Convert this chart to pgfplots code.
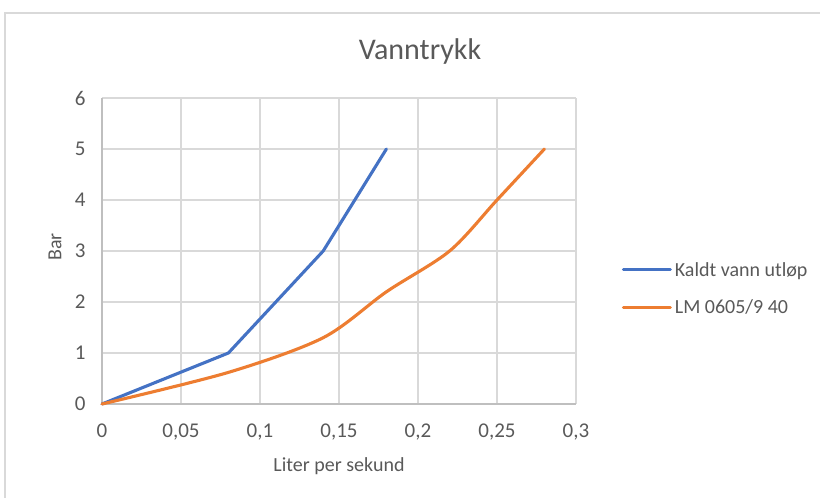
\documentclass[border=0pt]{standalone}
\usepackage{pgfplots}
\pgfplotsset{compat=1.18}
\usepackage{fontspec}
\setmainfont{Carlito}
\definecolor{xblue}{HTML}{4472C4}
\definecolor{xorange}{HTML}{ED7D31}
\definecolor{xgrid}{HTML}{D9D9D9}
\definecolor{xaxis}{HTML}{BFBFBF}
\definecolor{xtext}{HTML}{595959}
\begin{document}
\begin{tikzpicture}
\clip (0,0) rectangle (820bp,498bp);
\path[use as bounding box] (0,0) rectangle (820bp,498bp);
\draw[xgrid, line width=1.3bp] (5bp,-20bp) -- (5bp,485bp) -- (840bp,485bp);
\begin{axis}[
  at={(102bp,94bp)}, anchor=south west,
  scale only axis, width=474bp, height=306bp,
  xmin=0, xmax=0.3, ymin=0, ymax=6,
  xtick={0,0.05,0.1,0.15,0.2,0.25,0.3},
  xticklabels={0,{0,05},{0,1},{0,15},{0,2},{0,25},{0,3}},
  ytick={0,1,2,3,4,5,6},
  yticklabels={0,1,2,3,4,5,6},
  major tick length=0pt,
  grid=major,
  grid style={xgrid, line width=1.3bp},
  axis x line=bottom, axis y line=left,
  axis line style={xaxis, line width=1.3bp, -},
  tick label style={font=\fontsize{21bp}{25bp}\selectfont, text=xtext},
  xticklabel style={yshift=-16bp},
  yticklabel style={xshift=-13bp},
  clip=false,
  legend style={draw=none, fill=none, at={(1.09,0.377)}, anchor=west,
    font=\fontsize{20bp}{24bp}\selectfont, text=xtext,
    row sep=16bp, nodes={inner sep=3bp}},
  legend cell align=left,
  legend image code/.code={\draw[#1, line width=3bp] (0bp,0bp) -- (47bp,0bp);},
]
\addplot[xblue, line width=3.1bp, line join=round, line cap=round] coordinates {
  (0,0) (0.08,1) (0.14,3) (0.18,5)
};
\addlegendentry{Kaldt vann utløp}
\addplot[xorange, line width=3.1bp, smooth, tension=0.5, line cap=round] coordinates {
  (0,0) (0.08,0.62) (0.14,1.3) (0.18,2.2) (0.22,3.0) (0.25,4.0) (0.28,5.0)
};
\addlegendentry{LM 0605/9 40}
\end{axis}
\node[anchor=base, font=\fontsize{30bp}{36bp}\selectfont, text=xtext] at (420bp,438bp) {Vanntrykk};
\node[anchor=base, font=\fontsize{20bp}{24bp}\selectfont, text=xtext] at (339bp,27bp) {Liter per sekund};
\node[rotate=90, font=\fontsize{20bp}{24bp}\selectfont, text=xtext] at (55bp,251bp) {Bar};
\end{tikzpicture}
\end{document}
